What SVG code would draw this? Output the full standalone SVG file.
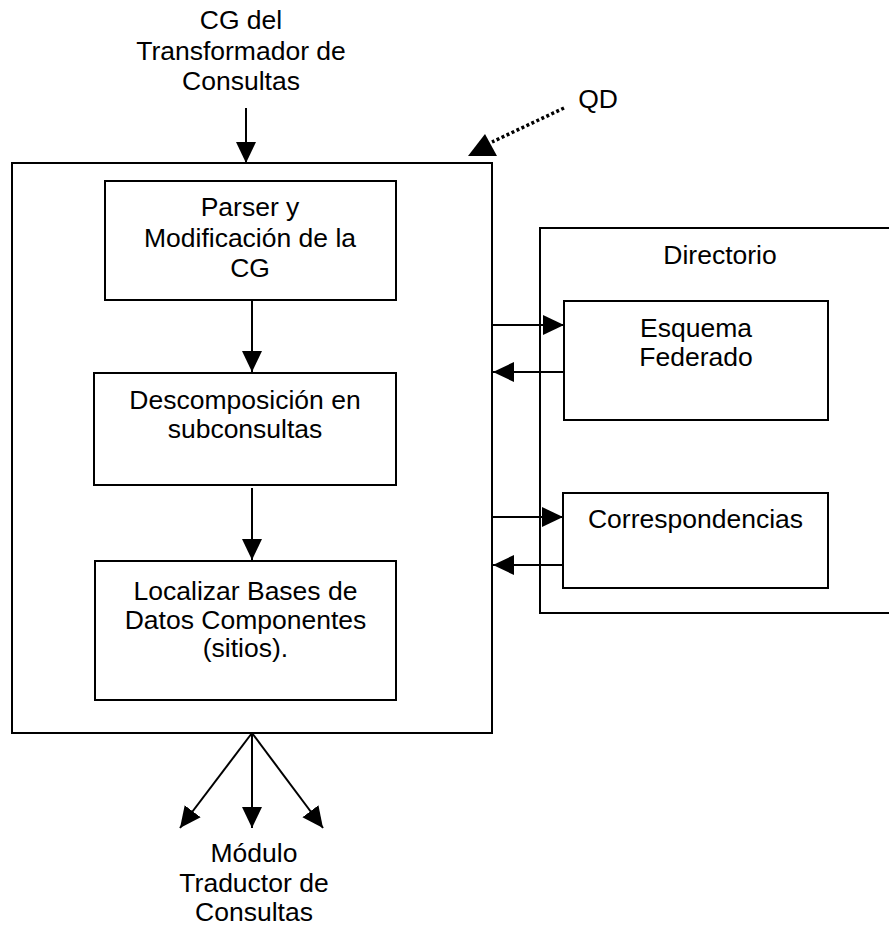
<svg xmlns="http://www.w3.org/2000/svg" width="889" height="927" viewBox="0 0 889 927">
  <style>
    .box { fill: #ffffff; stroke: #000000; stroke-width: 2; }
    .lbl { font-family: "Liberation Sans", Arial, sans-serif; font-size: 26.5px; fill: #000000; text-anchor: middle; }
    .edge { fill: none; stroke: #000000; stroke-width: 2; }
    .dot { fill: none; stroke: #000000; stroke-width: 3.5; stroke-dasharray: 3 2.5; }
  </style>
  <defs>
    <marker id="head" markerUnits="userSpaceOnUse" markerWidth="22" markerHeight="22" viewBox="0 0 22 22" refX="21" refY="11" orient="auto">
      <path d="M0,1 L21,11 L0,21 z" fill="#000000"/>
    </marker>
  </defs>
  <rect width="889" height="927" fill="#ffffff"/>

  <!-- inflow label -->
  <g id="input-label">
    <text class="lbl" x="241" y="29">CG del</text>
    <text class="lbl" x="241" y="60">Transformador de</text>
    <text class="lbl" x="241" y="90">Consultas</text>
  </g>

  <!-- QD -->
  <g id="qd-label">
    <text class="lbl" x="598" y="108">QD</text>
  </g>

  <!-- Query decomposer container -->
  <g id="qd">
    <rect class="box" x="12" y="163" width="480" height="570"/>
  </g>

  <g id="parser">
    <rect class="box" x="105" y="181" width="291" height="119"/>
    <text class="lbl" x="250" y="216">Parser y</text>
    <text class="lbl" x="250" y="247">Modificación de la</text>
    <text class="lbl" x="250" y="277">CG</text>
  </g>

  <g id="descomposicion">
    <rect class="box" x="94" y="373" width="302" height="112"/>
    <text class="lbl" x="245" y="409">Descomposición en</text>
    <text class="lbl" x="245" y="438">subconsultas</text>
  </g>

  <g id="localizar">
    <rect class="box" x="95" y="561" width="301" height="139"/>
    <text class="lbl" x="245.5" y="600">Localizar Bases de</text>
    <text class="lbl" x="245.5" y="629">Datos Componentes</text>
    <text class="lbl" x="245.5" y="657">(sitios).</text>
  </g>

  <!-- Directory -->
  <g id="directorio">
    <rect class="box" x="540" y="228" width="362" height="385"/>
    <text class="lbl" x="720" y="264">Directorio</text>
  </g>

  <g id="esquema">
    <rect class="box" x="564" y="301" width="264" height="119"/>
    <text class="lbl" x="696" y="337">Esquema</text>
    <text class="lbl" x="696" y="366">Federado</text>
  </g>

  <g id="correspondencias">
    <rect class="box" x="563" y="493" width="265" height="95"/>
    <text class="lbl" x="695.5" y="528">Correspondencias</text>
  </g>

  <!-- output label -->
  <g id="output-label">
    <text class="lbl" x="254" y="862">Módulo</text>
    <text class="lbl" x="254" y="892">Traductor de</text>
    <text class="lbl" x="254" y="921">Consultas</text>
  </g>

  <g id="connectors">
    <line class="edge" x1="246" y1="108" x2="246" y2="163" marker-end="url(#head)"/>
    <line class="edge" x1="252" y1="301" x2="252" y2="372" marker-end="url(#head)"/>
    <line class="edge" x1="252" y1="488" x2="252" y2="560" marker-end="url(#head)"/>

    <line class="edge" x1="492" y1="325" x2="564" y2="325" marker-end="url(#head)"/>
    <line class="edge" x1="564" y1="372" x2="493" y2="372" marker-end="url(#head)"/>
    <line class="edge" x1="492" y1="517" x2="563" y2="517" marker-end="url(#head)"/>
    <line class="edge" x1="563" y1="565" x2="493" y2="565" marker-end="url(#head)"/>

    <line class="edge" x1="252" y1="733" x2="180" y2="828" marker-end="url(#head)"/>
    <line class="edge" x1="252" y1="733" x2="252" y2="828" marker-end="url(#head)"/>
    <line class="edge" x1="252" y1="733" x2="323" y2="828" marker-end="url(#head)"/>

    <!-- dotted pointer from the QD label -->
    <line class="dot" x1="564" y1="108" x2="492" y2="142"/>
    <polygon points="468,156 497,156 485,134" fill="#000000"/>
  </g>
</svg>
